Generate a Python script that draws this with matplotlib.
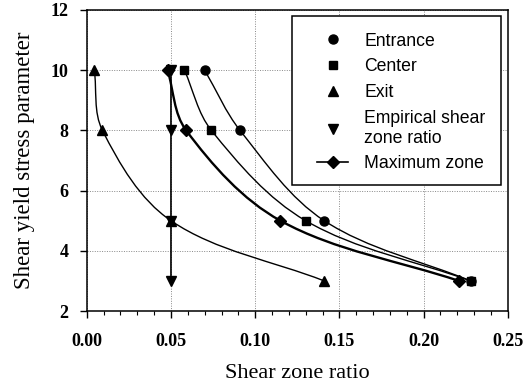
import matplotlib
matplotlib.use('Agg')
import numpy as np
import matplotlib.pyplot as plt
from matplotlib.path import Path
from matplotlib.patches import PathPatch, Rectangle
from matplotlib.lines import Line2D
from matplotlib.ticker import MultipleLocator

# Data
stress = [10, 8, 5, 3]
entrance = [0.070, 0.091, 0.141, 0.228]
center = [0.058, 0.074, 0.130, 0.228]
exit_ = [0.0045, 0.0093, 0.050, 0.141]
empirical = [0.050, 0.050, 0.050, 0.050]
max_zone = [0.048, 0.059, 0.115, 0.221]

x_ticks = [0.00, 0.05, 0.10, 0.15, 0.20, 0.25]
y_ticks = [2, 4, 6, 8, 10, 12]

SERIF = 'Liberation Serif'
SANS = 'Liberation Sans'


def smooth_path(ax, xs, ys):
    """Smoothed line like a spreadsheet chart: tangents from neighbours, scaled by chord length (screen space)."""
    pts = ax.transData.transform(np.column_stack([xs, ys]))
    n = len(pts)
    tangents = []
    for i in range(n):
        a = pts[max(i - 1, 0)]
        b = pts[min(i + 1, n - 1)]
        d = b - a
        tangents.append(d / np.hypot(*d))
    verts = [pts[0]]
    codes = [Path.MOVETO]
    for i in range(n - 1):
        chord = np.hypot(*(pts[i + 1] - pts[i]))
        c1 = pts[i] + tangents[i] * chord / 3
        c2 = pts[i + 1] - tangents[i + 1] * chord / 3
        verts += [c1, c2, pts[i + 1]]
        codes += [Path.CURVE4] * 3
    verts = ax.transData.inverted().transform(np.array(verts))
    return Path(verts, codes)


def main():
    fig = plt.figure(figsize=(5.29, 3.84), dpi=100)
    ax = fig.add_axes([0.164, 0.19, 0.796, 0.784])
    ax.set_xlim(0, 0.25)
    ax.set_ylim(2, 12)

    series = [
        (entrance, 'o', 6.5, 1.0),
        (center, 's', 6.0, 1.0),
        (exit_, '^', 6.5, 1.0),
        (empirical, 'v', 6.5, 1.2),
        (max_zone, 'D', 6.0, 1.7),
    ]
    for xs, marker, ms, lw in series:
        ax.add_patch(PathPatch(smooth_path(ax, xs, stress), fill=False, edgecolor='black',
                               linewidth=lw, zorder=2))
        ax.plot(xs, stress, linestyle='none', marker=marker, markersize=ms, color='black', zorder=3)

    ax.set_xticks(x_ticks)
    ax.set_yticks(y_ticks)
    ax.set_xticklabels([f'{v:.2f}' for v in x_ticks])
    ax.xaxis.set_minor_locator(MultipleLocator(0.01))
    ax.grid(True, which='major', linestyle=(0, (1, 1.5)), color='#888888', linewidth=0.7)

    for label in ax.get_xticklabels() + ax.get_yticklabels():
        label.set_fontfamily(SERIF)
        label.set_fontweight('bold')
        label.set_fontsize(13)
    ax.tick_params(axis='both', which='major', direction='out', length=5, width=1, pad=8)
    ax.tick_params(axis='x', which='major', pad=11)
    ax.tick_params(axis='x', which='minor', direction='out', length=3, width=0.8)
    for spine in ax.spines.values():
        spine.set_linewidth(1.1)

    ax.set_xlabel('Shear zone ratio', fontfamily=SERIF, fontsize=16, labelpad=10)
    ax.set_ylabel('Shear yield stress parameter', fontfamily=SERIF, fontsize=16.5, labelpad=11)

    # legend box drawn separately so its padding can match the reference
    ax.add_patch(Rectangle((0.487, 0.419), 0.497, 0.561, transform=ax.transAxes,
                           facecolor='white', edgecolor='black', linewidth=1.1, zorder=4))
    handles = [
        Line2D([], [], linestyle='none', marker='o', markersize=6.5, color='black'),
        Line2D([], [], linestyle='none', marker='s', markersize=6.0, color='black'),
        Line2D([], [], linestyle='none', marker='^', markersize=6.5, color='black'),
        Line2D([], [], linestyle='none', marker='v', markersize=6.5, color='black'),
        Line2D([], [], linestyle='-', linewidth=1.2, marker='D', markersize=6.0, color='black'),
    ]
    labels = ['Entrance', 'Center', 'Exit', 'Empirical shear\nzone ratio', 'Maximum zone']
    leg = ax.legend(handles, labels, loc='upper left', bbox_to_anchor=(0.547, 0.925),
                    prop={'family': SANS, 'size': 12.7}, frameon=False, borderpad=0,
                    borderaxespad=0, handlelength=1.76, labelspacing=0.5,
                    handletextpad=0.9)
    leg.set_zorder(5)

    fig.savefig('out.png', dpi=100)


if __name__ == '__main__':
    main()
